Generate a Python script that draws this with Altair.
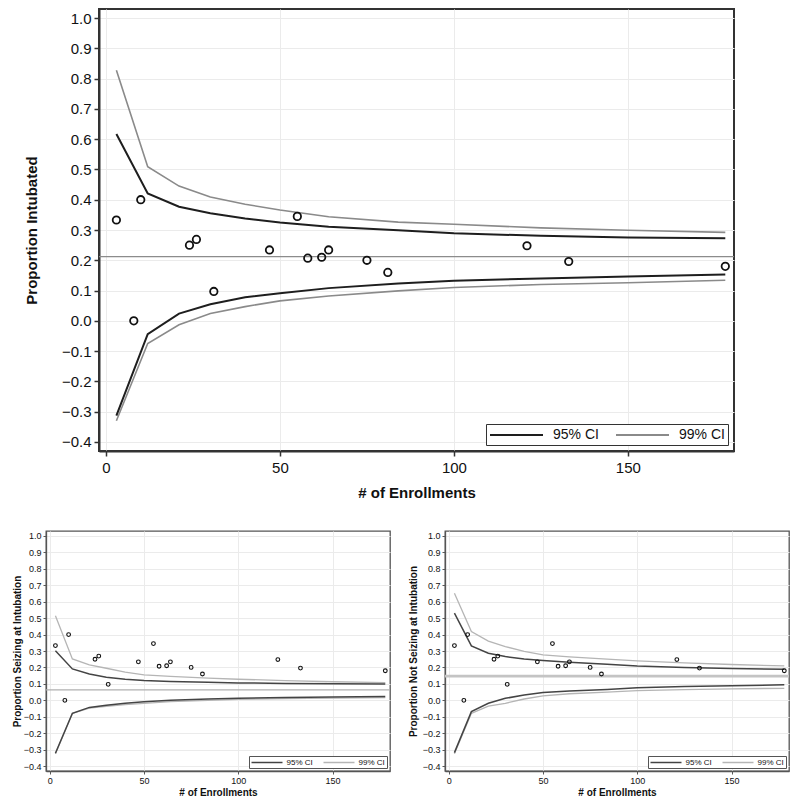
import altair as alt
import pandas as pd

FONT = "Liberation Sans"

# ---- observed sites (same in all three panels) ----
enroll = [3, 8, 10, 24, 26, 31, 47, 55, 58, 62, 64, 75, 81, 121, 133, 178]
prop_obs = [0.333, 0.0, 0.400, 0.250, 0.269, 0.097, 0.234, 0.345, 0.207,
            0.210, 0.234, 0.200, 0.160, 0.248, 0.196, 0.180]

# ---- control-limit grid (# of enrollments) ----
limit_n = [3, 12, 21, 30, 40, 50, 64, 84, 100, 125, 150, 178]

# Panel 1: Proportion Intubated
intub_mean = 0.212
intub_u95 = [0.617, 0.421, 0.377, 0.355, 0.338, 0.325, 0.311, 0.299, 0.289, 0.281, 0.275, 0.273]
intub_u99 = [0.828, 0.509, 0.445, 0.409, 0.385, 0.366, 0.344, 0.326, 0.319, 0.307, 0.299, 0.292]
intub_l95 = [-0.313, -0.044, 0.024, 0.055, 0.078, 0.091, 0.108, 0.123, 0.132, 0.140, 0.146, 0.153]
intub_l99 = [-0.330, -0.075, -0.013, 0.024, 0.047, 0.066, 0.082, 0.099, 0.110, 0.120, 0.126, 0.134]

# Panel 2: Proportion Seizing at Intubation
seiz_mean = 0.063
seiz_u95 = [0.302, 0.191, 0.160, 0.140, 0.128, 0.120, 0.115, 0.110, 0.106, 0.103, 0.101, 0.099]
seiz_u99 = [0.514, 0.252, 0.215, 0.195, 0.172, 0.155, 0.146, 0.135, 0.128, 0.120, 0.113, 0.108]
seiz_l95 = [-0.322, -0.079, -0.043, -0.030, -0.018, -0.008, 0.000, 0.008, 0.013, 0.017, 0.020, 0.023]
seiz_l99 = [-0.325, -0.080, -0.048, -0.036, -0.026, -0.018, -0.008, 0.000, 0.006, 0.010, 0.013, 0.016]

# Panel 3: Proportion Not Seizing at Intubation
nots_mean = 0.147
nots_u95 = [0.530, 0.331, 0.286, 0.266, 0.252, 0.242, 0.231, 0.219, 0.209, 0.200, 0.194, 0.189]
nots_u99 = [0.651, 0.418, 0.360, 0.327, 0.298, 0.276, 0.264, 0.250, 0.240, 0.228, 0.218, 0.209]
nots_l95 = [-0.318, -0.069, -0.018, 0.012, 0.032, 0.047, 0.056, 0.066, 0.077, 0.084, 0.089, 0.094]
nots_l99 = [-0.325, -0.079, -0.035, -0.018, 0.008, 0.027, 0.040, 0.050, 0.059, 0.065, 0.070, 0.073]

ci_labels = ["95% CI", "99% CI"]
x_ticks = [0, 50, 100, 150]
y_ticks = [-0.4, -0.3, -0.2, -0.1, 0.0, 0.1, 0.2, 0.3, 0.4, 0.5, 0.6, 0.7, 0.8, 0.9, 1.0]


def lines_df(ci, u, l):
    rows = []
    for n, v in zip(limit_n, u):
        rows.append({"n": n, "v": v, "ci": ci, "side": "upper"})
    for n, v in zip(limit_n, l):
        rows.append({"n": n, "v": v, "ci": ci, "side": "lower"})
    return pd.DataFrame(rows)


def panel(ytitle, mean, u95, u99, l95, l99, s):
    xs = alt.Scale(domain=[-2, 180.5], nice=False, zero=False)
    ys = alt.Scale(domain=[-0.43, 1.03], nice=False, zero=False)
    xax = alt.Axis(values=x_ticks, title="# of Enrollments", grid=True,
                   gridColor="#ebebeb", gridWidth=1,
                   labelFont=FONT, labelFontSize=s["tick"], labelColor="#111",
                   titleFont=FONT, titleFontSize=s["title"], titleFontWeight="bold",
                   titleColor="#111", tickSize=s["ticksize"], tickColor=s["frame"],
                   tickWidth=s["framew"] * 0.75, domainColor=s["frame"],
                   domainWidth=s["framew"], labelPadding=s["xlabpad"],
                   titlePadding=s["xtitlepad"], labelFlush=False)
    yax = alt.Axis(values=y_ticks, format=".1f", title=ytitle, grid=True,
                   gridColor="#ebebeb", gridWidth=1,
                   labelFont=FONT, labelFontSize=s["tick"], labelColor="#111",
                   titleFont=FONT, titleFontSize=s["title"], titleFontWeight="bold",
                   titleColor="#111", tickSize=s["ticksize"], tickColor=s["frame"],
                   tickWidth=s["framew"] * 0.75, domainColor=s["frame"],
                   domainWidth=s["framew"], labelPadding=s["ylabpad"],
                   titlePadding=s["ytitlepad"], labelFlush=False)
    X = alt.X("n:Q", scale=xs, axis=xax)
    Y = alt.Y("v:Q", scale=ys, axis=yax)

    r = s["symr"]
    k = s["symlen"] / r - 1.0
    sym_path = "M-1,0H%.3f" % k
    color = alt.Color(
        "ci:N",
        scale=alt.Scale(domain=ci_labels, range=[s["black"], s["gray"]]),
        legend=alt.Legend(
            orient="bottom-right", direction="horizontal", title=None,
            strokeColor=s["frame"], fillColor="white", padding=s["legpad"],
            offset=s["legoff"], symbolType=sym_path, symbolSize=(2 * r) ** 2,
            symbolStrokeWidth=s["lw95"], symbolFillColor="transparent",
            labelFont=FONT, labelFontSize=s["legfont"], labelColor="#111",
            labelOffset=s["symlen"] - 2 * r + s["labeloff"],
            columnPadding=s["colpad"], cornerRadius=0,
        ),
    )

    mean_layer = alt.Chart(pd.DataFrame({"n": [0], "v": [mean]})).mark_rule(
        color=s["meancolor"], strokeWidth=s["meanw"]
    ).encode(y=Y)

    l99 = alt.Chart(lines_df("99% CI", u99, l99)).mark_line(
        strokeWidth=s["lw99"]
    ).encode(x=X, y=Y, color=color, detail="side:N", order="n:Q")
    l95 = alt.Chart(lines_df("95% CI", u95, l95)).mark_line(
        strokeWidth=s["lw95"]
    ).encode(x=X, y=Y, color=color, detail="side:N", order="n:Q")

    pts = alt.Chart(pd.DataFrame({"n": enroll, "v": prop_obs})).mark_point(
        shape="circle", filled=False, size=s["ptsize"], strokeWidth=s["ptw"],
        color="#111", opacity=1
    ).encode(x=X, y=Y)

    return alt.layer(mean_layer, l99, l95, pts).properties(
        width=s["w"], height=s["h"],
        view=alt.ViewBackground(stroke=s["frame"], strokeWidth=s["framew"], fill="white"),
    )


def spacer(w):
    return alt.Chart(pd.DataFrame({"a": [0]})).mark_rule(
        color="white", strokeWidth=1
    ).encode(x=alt.value(0), x2=alt.value(w), y=alt.value(0)).properties(
        width=w, height=1,
        view=alt.ViewBackground(stroke=None, fill=None),
    )


top_style = dict(w=635, h=442, tick=15, title=15, ticksize=5, frame="#333",
                 framew=2, xlabpad=4, xtitlepad=10, ylabpad=3, ytitlepad=22,
                 black="#1e1e1e", gray="#8a8a8a", lw95=2, lw99=1.6,
                 legpad=3, legoff=6, symlen=53, symr=7, legfont=14, labeloff=9,
                 colpad=13, meancolor="#8c8c8c", meanw=1.3, ptsize=55, ptw=1.8)

bot_style = dict(w=344, h=240, tick=9, title=10, ticksize=3, frame="#555",
                 framew=1.3, xlabpad=2, xtitlepad=2, ylabpad=2, ytitlepad=1,
                 black="#444444", gray="#b5b5b5", lw95=1.5, lw99=1.3,
                 legpad=1.5, legoff=3, symlen=31, symr=4, legfont=8, labeloff=3,
                 colpad=7, meancolor="#b0b0b0", meanw=1.3, ptsize=14, ptw=1.1)

bot_style_r = dict(bot_style, ytitlepad=4, meanw=2.6, meancolor="#c4c4c4")

top = panel("Proportion Intubated", intub_mean, intub_u95, intub_u99,
            intub_l95, intub_l99, top_style)
bl = panel("Proportion Seizing at Intubation", seiz_mean, seiz_u95, seiz_u99,
           seiz_l95, seiz_l99, bot_style)
br = panel("Proportion Not Seizing at Intubation", nots_mean, nots_u95, nots_u99,
           nots_l95, nots_l99, bot_style_r)

top_row = alt.concat(spacer(13), top, columns=2, spacing=0,
                     align="none").resolve_scale(color="independent")
bottom = alt.concat(spacer(1), bl, spacer(13), br, columns=4, spacing=0,
                    align="none").resolve_scale(color="independent")

chart = (
    alt.vconcat(top_row, bottom, spacing=29)
    .resolve_scale(color="independent")
    .properties(padding=0, background="white")
    .configure(font=FONT)
)

chart.save("out.html", embed_options={"renderer": "svg", "actions": False})
